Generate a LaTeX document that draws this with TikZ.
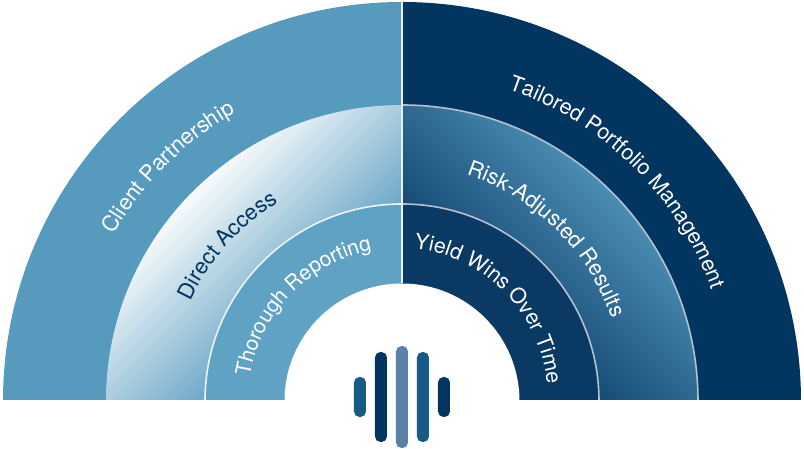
\documentclass[tikz,border=0pt]{standalone}
\usepackage{fontspec}
\setmainfont{TeX Gyre Heros}
\usetikzlibrary{decorations.text}
\definecolor{skyband}{HTML}{569ABE}
\definecolor{skyinner}{HTML}{5FA2C3}
\definecolor{skyfade}{HTML}{6AA7C7}
\definecolor{navyband}{HTML}{02355F}
\definecolor{navyinner}{HTML}{0A3A63}
\definecolor{navyfade}{HTML}{164A75}
\definecolor{midbar}{HTML}{165A85}
\definecolor{palebar}{HTML}{5B82A6}
\pgfdeclareverticalshading{leftfade}{100bp}{color(0bp)=(skyfade); color(38bp)=(skyfade); color(66bp)=(white); color(100bp)=(white)}
\pgfdeclareverticalshading{rightfade}{100bp}{color(0bp)=(navyfade); color(38bp)=(navyfade); color(70bp)=(skyband); color(100bp)=(skyband)}
\tikzset{
  x=1pt, y=1pt,
  ringlabel/.style n args={3}{decorate, decoration={text along path, text align=center, text={|\fontsize{#1}{25}\selectfont\color{#2}|#3}}},
  logobar/.style={rounded corners=5.5pt}
}
\begin{document}
\begin{tikzpicture}
              \useasboundingbox (-402,-48) rectangle (402,401);

              \begin{scope}
                \clip (-402,1.5) rectangle (402,401);

                \fill[skyband] (-399,0) arc (180:90:399) -- (0,0) -- cycle;
                \fill[navyband] (399,0) arc (0:90:399) -- (0,0) -- cycle;

                \shade[shading=leftfade, shading angle=45]
                  (-296,0) arc (180:90:296) -- (0,0) -- cycle;
                \shade[shading=rightfade, shading angle=-45]
                  (296,0) arc (0:90:296) -- (0,0) -- cycle;

                \fill[skyinner] (-197,0) arc (180:90:197) -- (0,0) -- cycle;
                \fill[navyinner] (197,0) arc (0:90:197) -- (0,0) -- cycle;

                \draw[line width=1.6pt, white!88!skyband] (-197,0) arc (180:90:197);
                \draw[line width=1.6pt, white!70!navyband] (197,0) arc (0:90:197);
                \draw[line width=1.6pt, white!70!navyband] (296,0) arc (0:90:296);

                \fill[white] (-117.5,0) arc (180:0:117.5) -- cycle;
              \end{scope}
              \draw[line width=1.6pt, white!85!skyband] (0,117.5) -- (0,399);

              \foreach \x/\h/\c in {-42/20/midbar,-21/45/navyband,0/51/palebar,21/45/midbar,42/20/navyband}{
                \fill[\c, logobar] (\x-6,4-\h) rectangle (\x+6,4+\h);
              }

              \path[ringlabel={22}{white}{Client Partnership}] (180:333) arc (180:90:333);
              \path[ringlabel={22}{navyband}{Direct Access}] (183.3:234) arc (183.3:93.3:234);
              \path[ringlabel={21}{white}{Thorough Reporting}] (181:154) arc (181:91:154);

              \path[ringlabel={21.6}{white}{Tailored Portfolio Management}] (90.5:329) arc (90.5:0.5:329);
              \path[ringlabel={21.7}{white}{Risk-Adjusted Results}, rotate around={-3:(143,162)}] (93.3:230.5) arc (93.3:3.3:230.5);
              \path[ringlabel={21.3}{white}{Yield Wins Over Time}, rotate around={-2.5:(85,91)}] (92:149.5) arc (92:2:149.5);
            \end{tikzpicture}
\end{document}
